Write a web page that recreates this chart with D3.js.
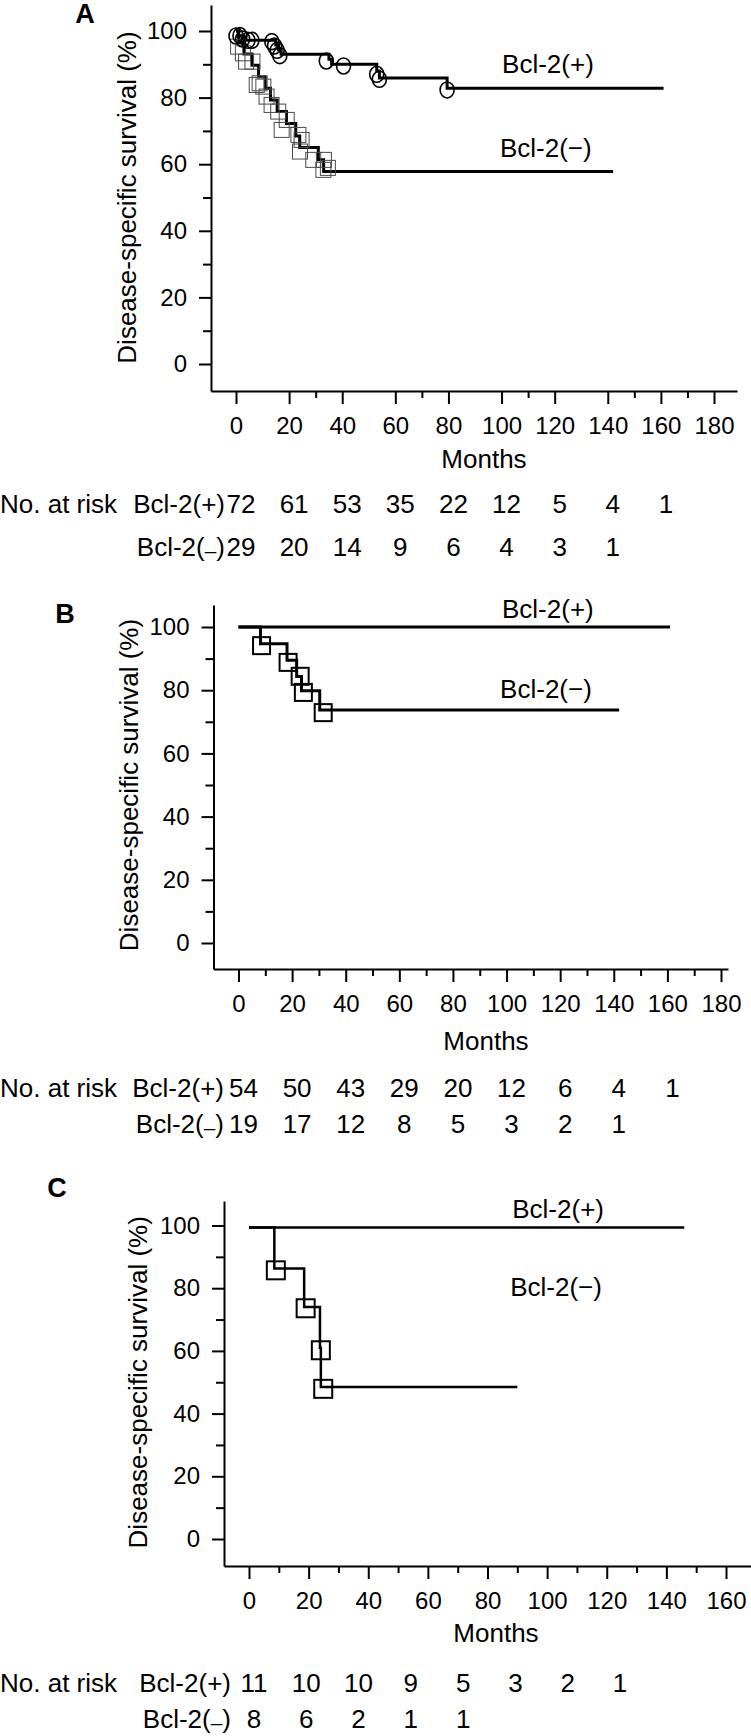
<!DOCTYPE html>
<html>
<head>
<meta charset="utf-8">
<script src="https://cdn.jsdelivr.net/npm/d3@7"></script>
<style>
  html, body { margin: 0; padding: 0; background: #fff; }
  svg { display: block; }
  text { font-family: "Liberation Sans", Arial, Helvetica, sans-serif; fill: #000; }
</style>
</head>
<body>
<div id="chart"></div>
<script>
// ---- values ----
// axis ticks
const xMajor180 = [0, 20, 40, 60, 80, 100, 120, 140, 160, 180];
const xMajor160 = [0, 20, 40, 60, 80, 100, 120, 140, 160];
const xMinorA = [30, 70, 110, 150, 170];
const xMinorB = [10, 30, 50, 70, 90, 110, 130, 150, 170];
const xMinorC = [10, 30, 50, 70, 90, 110, 130, 150];
const yMajor = [0, 20, 40, 60, 80, 100];
const yMinor = [10, 30, 50, 70, 90];

// panel A, Bcl-2(+) : step curve and censored (circles)
const aPosT = [0, 1, 3, 15, 16, 17, 35, 36, 53, 54, 79.5, 161];
const aPosS = [100, 98.6, 97.2, 95.8, 94.4, 93.0, 91.5, 90.0, 88.0, 85.9, 82.8, 82.8];
const aPosCensT = [0, 1.5, 2.5, 4.5, 6, 13.5, 14.5, 15.5, 16.5, 34, 40.5, 53, 54, 79.5];
const aPosCensS = [98.5, 98.6, 97.6, 97.2, 97.2, 96.8, 95.5, 94.2, 92.6, 91.0, 89.5, 87.0, 85.5, 82.3];
// panel A, Bcl-2(-) : step curve and censored (squares)
const aNegT = [0, 1, 3, 6, 8.5, 11, 13, 15.5, 19, 22.5, 24, 31, 33, 142];
const aNegS = [100, 96.6, 93.1, 89.7, 86.2, 82.8, 79.3, 75.8, 72.2, 68.5, 65.0, 61.3, 57.8, 57.8];
const aNegCensT = [0.8, 2.6, 3.8, 6.2, 7.8, 8.9, 10.3, 11.5, 13.4, 15.9, 17.2, 19.1, 23.5, 24.1, 24.7, 29.1, 33.1, 32.9, 34.6];
const aNegCensS = [95.3, 93.3, 90.8, 90.8, 83.8, 84.3, 83.3, 80.3, 77.8, 75.8, 70.3, 73.3, 68.8, 63.8, 67.3, 61.3, 61.3, 58.3, 58.9];

// panel B
const bPosT = [0, 161];
const bPosS = [100, 100];
const bNegT = [0, 8.2, 18.1, 21.7, 23.5, 30.3, 142];
const bNegS = [100, 94.7, 89.5, 84.3, 79.8, 73.7, 73.7];
const bNegCensT = [8.6, 18.5, 23, 24.2, 31.6];
const bNegCensS = [94.1, 88.8, 84.4, 79.3, 72.9];

// panel C
const cPosT = [0, 146];
const cPosS = [99.4, 99.4];
const cNegT = [0, 8.5, 18.5, 23.8, 24.1, 90];
const cNegS = [99.4, 86.3, 74.0, 61.0, 48.5, 48.5];
const cNegCensT = [9.0, 19.0, 24.1, 24.9];
const cNegCensS = [85.7, 73.6, 60.2, 47.9];

// numbers at risk
const riskMonths = [0, 20, 40, 60, 80, 100, 120, 140, 160];
const riskAPos = [72, 61, 53, 35, 22, 12, 5, 4, 1];
const riskANeg = [29, 20, 14, 9, 6, 4, 3, 1];
const riskBPos = [54, 50, 43, 29, 20, 12, 6, 4, 1];
const riskBNeg = [19, 17, 12, 8, 5, 3, 2, 1];
const riskCPos = [11, 10, 10, 9, 5, 3, 2, 1];
const riskCNeg = [8, 6, 2, 1, 1];

const W = 751, H = 1736;
const zip = (t, s) => t.map((d, i) => ({ t: d, s: s[i] }));

// layout of the three panels (pixels)
const panels = [
  {
    letter: 'A', letterX: 85, letterY: 23,
    left: 211, right: 737, top: 5, bottom: 391,
    x0: 236, xEndMonth: 180, xEndPx: 714, y0: 364, y100: 31,
    xTicks: xMajor180, xMinor: xMinorA,
    titleX: 136, monthsX: 484, monthsDy: 77,
    pos: zip(aPosT, aPosS), neg: zip(aNegT, aNegS),
    posCens: zip(aPosCensT, aPosCensS), negCens: zip(aNegCensT, aNegCensS),
    sq: 15, sqStroke: 1, sqColor: '#4a4a4a', lineW: 3,
    posLabel: [100.2, 87.4], negLabel: [99.4, 62.2],
    riskPos: riskAPos, riskNeg: riskANeg, riskLabelEnd: 225, riskRows: [513, 556],
    riskCol: null
  },
  {
    letter: 'B', letterX: 65, letterY: 623,
    left: 213.5, right: 728, top: 605, bottom: 969,
    x0: 238.5, xEndMonth: 180, xEndPx: 721, y0: 943, y100: 627,
    xTicks: xMajor180, xMinor: xMinorB,
    titleX: 138, monthsX: 486, monthsDy: 81,
    pos: zip(bPosT, bPosS), neg: zip(bNegT, bNegS),
    posCens: [], negCens: zip(bNegCensT, bNegCensS),
    sq: 17, sqStroke: 2, sqColor: '#000', lineW: 3,
    posLabel: [98.3, 102.8], negLabel: [97.6, 77.5],
    riskPos: riskBPos, riskNeg: riskBNeg, riskLabelEnd: 224, riskRows: [1097, 1133],
    riskCol: null
  },
  {
    letter: 'C', letterX: 57, letterY: 1197,
    left: 224, right: 751, top: 1201, bottom: 1566,
    x0: 249, xEndMonth: 160, xEndPx: 726, y0: 1539, y100: 1225.5,
    xTicks: xMajor160, xMinor: xMinorC,
    titleX: 147, monthsX: 496, monthsDy: 76,
    pos: zip(cPosT, cPosS), neg: zip(cNegT, cNegS),
    posCens: [], negCens: zip(cNegCensT, cNegCensS),
    sq: 18, sqStroke: 2, sqColor: '#000', lineW: 2.5,
    posLabel: [88.3, 102.4], negLabel: [87.6, 77.5],
    riskPos: riskCPos, riskNeg: riskCNeg, riskLabelEnd: 231, riskRows: [1692, 1728],
    riskCol: [254, 620]
  }
];

const svg = d3.select('#chart').append('svg')
  .attr('width', W).attr('height', H)
  .attr('viewBox', `0 0 ${W} ${H}`);

// "Bcl-2(-)" in the risk table has a small lowered dash
function minusLabel(sel, prefix) {
  sel.text(prefix);
  sel.append('tspan').attr('dy', 2).attr('font-size', '0.8em').text('\u2013');
  sel.append('tspan').attr('dy', -2).text(')');
}

function drawPanel(p) {
  const x = d3.scaleLinear().domain([0, p.xEndMonth]).range([p.x0, p.xEndPx]);
  const y = d3.scaleLinear().domain([0, 100]).range([p.y0, p.y100]);
  // same mapping, stretched to the drawn axis extents
  const xa = x.copy().domain([x.invert(p.left), x.invert(p.right)]).range([p.left, p.right]);
  const ya = y.copy().domain([y.invert(p.bottom), y.invert(p.top)]).range([p.bottom, p.top]);

  const g = svg.append('g');

  // letter
  g.append('text')
    .attr('x', p.letterX).attr('y', p.letterY)
    .attr('text-anchor', 'middle')
    .attr('font-size', 27).attr('font-weight', 'bold')
    .text(p.letter);

  // x axis
  const gx = g.append('g').attr('transform', `translate(0,${p.bottom})`)
    .call(d3.axisBottom(xa).tickValues(p.xTicks).tickSize(13).tickPadding(13)
      .tickSizeOuter(0).tickFormat(d3.format('d')));
  gx.append('g')
    .call(d3.axisBottom(xa).tickValues(p.xMinor).tickSize(7).tickSizeOuter(0).tickFormat(''))
    .select('.domain').remove();

  // y axis
  const gy = g.append('g').attr('transform', `translate(${p.left},0)`)
    .call(d3.axisLeft(ya).tickValues(yMajor).tickSize(12).tickPadding(12)
      .tickSizeOuter(0).tickFormat(d3.format('d')));
  gy.append('g')
    .call(d3.axisLeft(ya).tickValues(yMinor).tickSize(8).tickSizeOuter(0).tickFormat(''))
    .select('.domain').remove();

  [gx, gy].forEach(a => {
    a.attr('font-size', 24).attr('font-family', null);
    a.selectAll('line, path').attr('stroke', '#000').attr('stroke-width', 2);
  });

  // axis titles
  g.append('text')
    .attr('transform', `translate(${p.titleX},${(y(0) + y(100)) / 2}) rotate(-90)`)
    .attr('text-anchor', 'middle').attr('font-size', 26)
    .text('Disease-specific survival (%)');

  g.append('text')
    .attr('x', p.monthsX).attr('y', p.bottom + p.monthsDy)
    .attr('text-anchor', 'middle').attr('font-size', 26)
    .text('Months');

  // survival curves
  const line = d3.line().x(d => x(d.t)).y(d => y(d.s)).curve(d3.curveStepAfter);

  g.append('path').datum(p.neg)
    .attr('d', line).attr('fill', 'none')
    .attr('stroke', '#000').attr('stroke-width', p.lineW);
  g.append('path').datum(p.pos)
    .attr('d', line).attr('fill', 'none')
    .attr('stroke', '#000').attr('stroke-width', p.lineW);

  // censored marks
  g.selectAll('.sq').data(p.negCens).enter().append('rect')
    .attr('class', 'sq')
    .attr('x', d => x(d.t) - p.sq / 2).attr('y', d => y(d.s) - p.sq / 2)
    .attr('width', p.sq).attr('height', p.sq)
    .attr('fill', 'none').attr('stroke', p.sqColor).attr('stroke-width', p.sqStroke);

  g.selectAll('.circ').data(p.posCens).enter().append('ellipse')
    .attr('class', 'circ')
    .attr('cx', d => x(d.t)).attr('cy', d => y(d.s))
    .attr('rx', 7).attr('ry', 8)
    .attr('fill', 'none').attr('stroke', '#000').attr('stroke-width', 1.6);

  // curve labels
  g.append('text')
    .attr('x', x(p.posLabel[0])).attr('y', y(p.posLabel[1]))
    .attr('font-size', 26).text('Bcl-2(+)');
  g.append('text')
    .attr('x', x(p.negLabel[0])).attr('y', y(p.negLabel[1]))
    .attr('font-size', 26).text('Bcl-2(\u2212)');

  // numbers at risk
  const col = p.riskCol
    ? d3.scaleLinear().domain([0, 7]).range(p.riskCol)
    : (i => x(riskMonths[i]) + 5);

  g.append('text')
    .attr('x', 0).attr('y', p.riskRows[0])
    .attr('font-size', 26).text('No. at risk');
  g.append('text')
    .attr('x', p.riskLabelEnd).attr('y', p.riskRows[0])
    .attr('text-anchor', 'end').attr('font-size', 26).text('Bcl-2(+)');
  g.append('text')
    .attr('x', p.riskLabelEnd).attr('y', p.riskRows[1])
    .attr('text-anchor', 'end').attr('font-size', 26)
    .call(minusLabel, 'Bcl-2(');

  g.selectAll('.rp').data(p.riskPos).enter().append('text')
    .attr('class', 'rp')
    .attr('x', (d, i) => col(i)).attr('y', p.riskRows[0])
    .attr('text-anchor', 'middle').attr('font-size', 26)
    .text(d => d);
  g.selectAll('.rn').data(p.riskNeg).enter().append('text')
    .attr('class', 'rn')
    .attr('x', (d, i) => col(i)).attr('y', p.riskRows[1])
    .attr('text-anchor', 'middle').attr('font-size', 26)
    .text(d => d);
}

panels.forEach(drawPanel);
</script>
</body>
</html>
